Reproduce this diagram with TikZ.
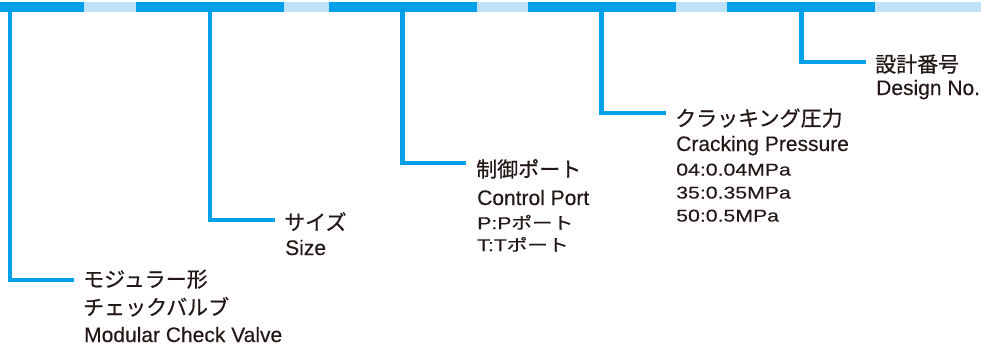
\documentclass[tikz,border=0pt]{standalone}
\usepackage{fontspec}
\setmainfont[FakeBold=0.25]{Liberation Sans}
\newfontfamily\jp[FakeBold=0.6]{Noto Sans CJK JP}
\definecolor{dblue}{RGB}{0,160,233}
\definecolor{lblue}{RGB}{190,227,248}
\definecolor{ink}{RGB}{35,24,21}
\newcommand{\jpsmall}[1]{{\jp\fontsize{16.5}{20}\selectfont #1}}
\begin{document}
\begin{tikzpicture}[x=1pt,y=-1pt,
  lead/.style={draw=dblue, line width=4.4pt},
  jlab/.style={anchor=base west, inner sep=0pt, text=ink, font=\jp\fontsize{21}{25}\selectfont},
  elab/.style={anchor=base west, inner sep=0pt, text=ink, font=\fontsize{21}{25}\selectfont},
  slab/.style={anchor=base west, inner sep=0pt, text=ink, font=\fontsize{17}{21}\selectfont, transform shape},
  widen/.style={xscale=1.25}]
\useasboundingbox (0,0) rectangle (981,349);
% top bar
\fill[lblue] (0,2) rectangle (981,12);
\fill[dblue] (0,2) rectangle (84,12);
\fill[dblue] (136,2) rectangle (284,12);
\fill[dblue] (329,2) rectangle (477,12);
\fill[dblue] (528,2) rectangle (676,12);
\fill[dblue] (727,2) rectangle (875,12);
% leader coordinates
\coordinate (t1) at (10,11);   \coordinate (e1) at (74,280);
\coordinate (t2) at (210,11);  \coordinate (e2) at (275,220);
\coordinate (t3) at (402.5,11);\coordinate (e3) at (466,163);
\coordinate (t4) at (601.5,11);\coordinate (e4) at (666,113);
\coordinate (t5) at (801.5,11);\coordinate (e5) at (866,62);
\draw[lead] (t1) |- (e1);
\draw[lead] (t2) |- (e2);
\draw[lead] (t3) |- (e3);
\draw[lead] (t4) |- (e4);
\draw[lead] (t5) |- (e5);
% group 1
\node[jlab] (a1) at (83,287) {モジュラー形};
\node[jlab] (a2) at (83,315) {チェックバルブ};
\node[elab] (a3) at (84,342) {Modular Check Valve};
% group 2
\node[jlab] (b1) at (284,230) {サイズ};
\node[elab] (b2) at (285,255) {Size};
% group 3
\node[jlab] (c1) at (476,177) {制御ポート};
\node[elab] (c2) at (477,205) {Control Port};
\begin{scope}[shift={(477,229)}, widen]
  \node[slab] (c3) at (0,0) {P:P\jpsmall{ポート}};
\end{scope}
\begin{scope}[shift={(477,251)}, widen]
  \node[slab] (c4) at (0,0) {T:T\jpsmall{ポート}};
\end{scope}
% group 4
\node[jlab] (d1) at (675,126) {クラッキング圧力};
\node[elab] (d2) at (676,151) {Cracking Pressure};
\begin{scope}[shift={(676,175.5)}, widen]
  \node[slab] (d3) at (0,0) {04:0.04MPa};
\end{scope}
\begin{scope}[shift={(676,198.5)}, widen]
  \node[slab] (d4) at (0,0) {35:0.35MPa};
\end{scope}
\begin{scope}[shift={(676,221.5)}, widen]
  \node[slab] (d5) at (0,0) {50:0.5MPa};
\end{scope}
% group 5
\node[jlab] (f1) at (875,72) {設計番号};
\node[elab] (f2) at (876,95) {Design No.};
\end{tikzpicture}
\end{document}
